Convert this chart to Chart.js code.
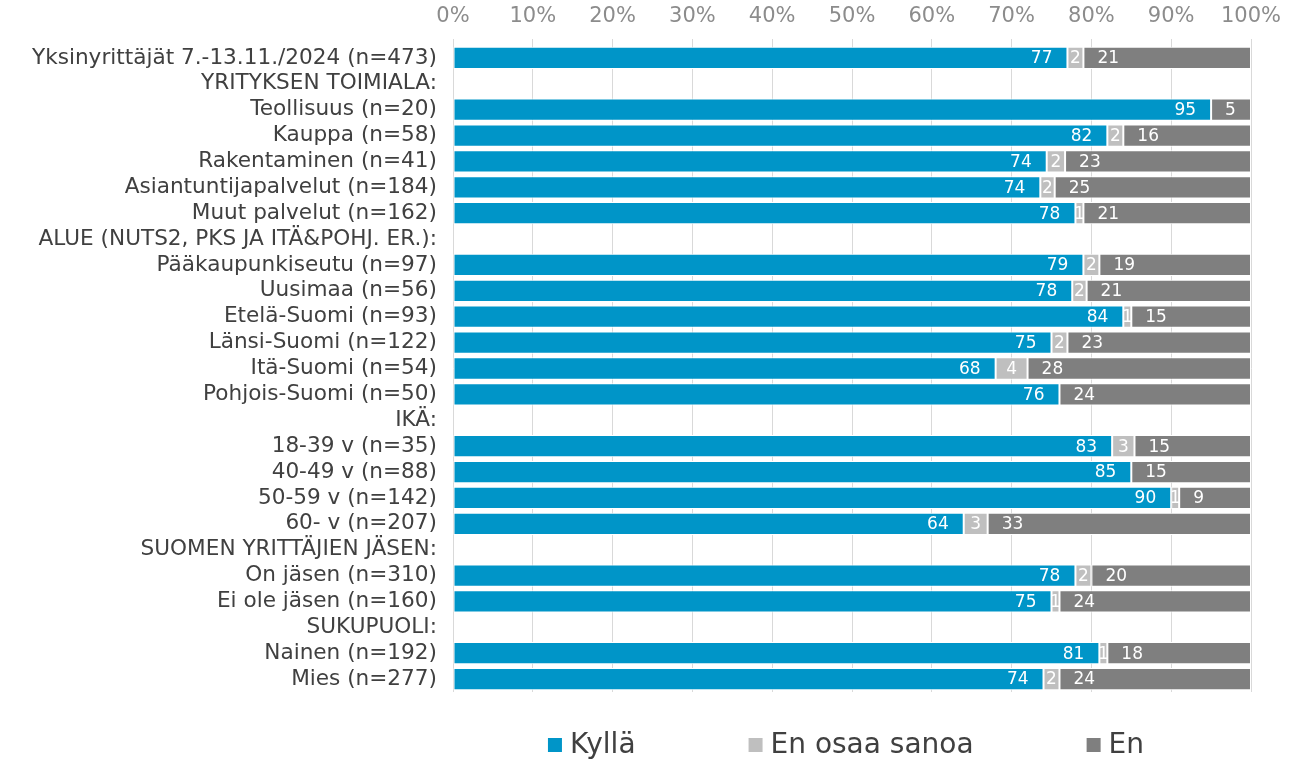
<!DOCTYPE html>
<html>
<head>
<meta charset="utf-8">
<script src="https://cdn.jsdelivr.net/npm/chart.js@4"></script>
<style>
  html, body { margin: 0; padding: 0; background: #fff; }
  #wrap { width: 1311px; height: 760px; }
</style>
</head>
<body>
<div id="wrap"><canvas id="kaavio"></canvas></div>
<script>
const kategoriat = [
    'Yksinyrittäjät 7.-13.11./2024 (n=473)',
    'YRITYKSEN TOIMIALA:',
    'Teollisuus (n=20)',
    'Kauppa (n=58)',
    'Rakentaminen (n=41)',
    'Asiantuntijapalvelut (n=184)',
    'Muut palvelut (n=162)',
    'ALUE (NUTS2, PKS JA ITÄ&POHJ. ER.):',
    'Pääkaupunkiseutu (n=97)',
    'Uusimaa (n=56)',
    'Etelä-Suomi (n=93)',
    'Länsi-Suomi (n=122)',
    'Itä-Suomi (n=54)',
    'Pohjois-Suomi (n=50)',
    'IKÄ:',
    '18-39 v (n=35)',
    '40-49 v (n=88)',
    '50-59 v (n=142)',
    '60- v (n=207)',
    'SUOMEN YRITTÄJIEN JÄSEN:',
    'On jäsen (n=310)',
    'Ei ole jäsen (n=160)',
    'SUKUPUOLI:',
    'Nainen (n=192)',
    'Mies (n=277)'
];

const kylla = [77, null, 95, 82, 74.4, 73.6, 78, null, 79, 77.6, 84, 75, 68, 76, null, 82.6, 85, 90, 64, null, 78, 75, null, 81, 74];
const enOsaa = [2, null, 0, 2, 2.3, 1.8, 1, null, 2, 1.8, 1, 2, 4, 0, null, 2.8, 0, 1, 3, null, 2, 1, null, 1, 2];
const en = [21, null, 5, 16, 23.3, 24.6, 21, null, 19, 20.6, 15, 23, 28, 24, null, 14.6, 15, 9, 33, null, 20, 24, null, 18, 24];

const xTicks = [0, 10, 20, 30, 40, 50, 60, 70, 80, 90, 100];

const FONTTI = 'DejaVu Sans';

// arvot palkkien sisään
const arvoPlugin = {
    id: 'arvot',
    afterDatasetsDraw(chart) {
        const ctx = chart.ctx;
        ctx.save();
        ctx.font = '17px "' + FONTTI + '"';
        ctx.fillStyle = '#ffffff';
        ctx.textBaseline = 'middle';
        chart.data.datasets.forEach((ds, i) => {
            const meta = chart.getDatasetMeta(i);
            meta.data.forEach((bar, j) => {
                const v = ds.data[j];
                if (v === null || v === 0) return;
                const txt = String(Math.round(v));
                const lo = Math.min(bar.x, bar.base);
                const hi = Math.max(bar.x, bar.base);
                if (i === 0) {
                    ctx.textAlign = 'right';
                    ctx.fillText(txt, hi - 15, bar.y + 1);
                } else if (i === 1) {
                    ctx.textAlign = 'center';
                    ctx.fillText(txt, (lo + hi) / 2, bar.y + 1);
                } else {
                    ctx.textAlign = 'left';
                    ctx.fillText(txt, lo + 14, bar.y + 1);
                }
            });
        });
        ctx.restore();
    }
};

// selite alareunaan
const selitePlugin = {
    id: 'selite',
    afterDraw(chart) {
        const ctx = chart.ctx;
        const area = chart.chartArea;
        ctx.save();
        ctx.font = '28px "' + FONTTI + '"';
        ctx.textBaseline = 'middle';
        ctx.textAlign = 'left';
        const laatikko = 14, rako = 8, vali = 113;
        const osat = chart.data.datasets.map(ds => ({
            teksti: ds.label,
            vari: ds.backgroundColor,
            w: laatikko + rako + ctx.measureText(ds.label).width
        }));
        const yht = osat.reduce((s, o) => s + o.w, 0) + vali * (osat.length - 1);
        let x = (area.left + area.right) / 2 - 6 - yht / 2;
        const y = 745;
        osat.forEach(o => {
            ctx.fillStyle = o.vari;
            ctx.fillRect(x, y - laatikko / 2, laatikko, laatikko);
            ctx.fillStyle = '#404040';
            ctx.fillText(o.teksti, x + laatikko + rako, y + 1);
            x += o.w + vali;
        });
        ctx.restore();
    }
};

new Chart(document.getElementById('kaavio'), {
    type: 'bar',
    data: {
        labels: kategoriat,
        datasets: [
            { label: 'Kyllä', data: kylla, backgroundColor: '#0095c8' },
            { label: 'En osaa sanoa', data: enOsaa, backgroundColor: '#bfbfbf' },
            { label: 'En', data: en, backgroundColor: '#7f7f7f' }
        ]
    },
    options: {
        indexAxis: 'y',
        responsive: true,
        maintainAspectRatio: false,
        animation: false,
        datasets: {
            bar: {
                barPercentage: 0.86,
                categoryPercentage: 1,
                borderWidth: 1,
                borderColor: '#ffffff',
                borderSkipped: false
            }
        },
        layout: { padding: { left: 0, right: 60, top: 0, bottom: 68 } },
        plugins: {
            legend: { display: false },
            tooltip: { enabled: false }
        },
        scales: {
            x: {
                position: 'top',
                stacked: true,
                min: 0,
                max: 100,
                afterBuildTicks: s => { s.ticks = xTicks.map(v => ({ value: v })); },
                afterFit: s => { s.height = 45; },
                grid: { color: '#d9d9d9', tickLength: 6, drawTicks: true },
                border: { display: false },
                ticks: {
                    color: '#8c8c8c',
                    padding: 10,
                    font: { family: FONTTI, size: 21 },
                    callback: v => v + '%'
                }
            },
            y: {
                stacked: true,
                afterFit: s => { s.width = 453; },
                grid: { display: false },
                border: { display: false },
                ticks: {
                    color: '#404040',
                    autoSkip: false,
                    padding: 8,
                    font: { family: FONTTI, size: 21.6 }
                }
            }
        }
    },
    plugins: [arvoPlugin, selitePlugin]
});
</script>
</body>
</html>
